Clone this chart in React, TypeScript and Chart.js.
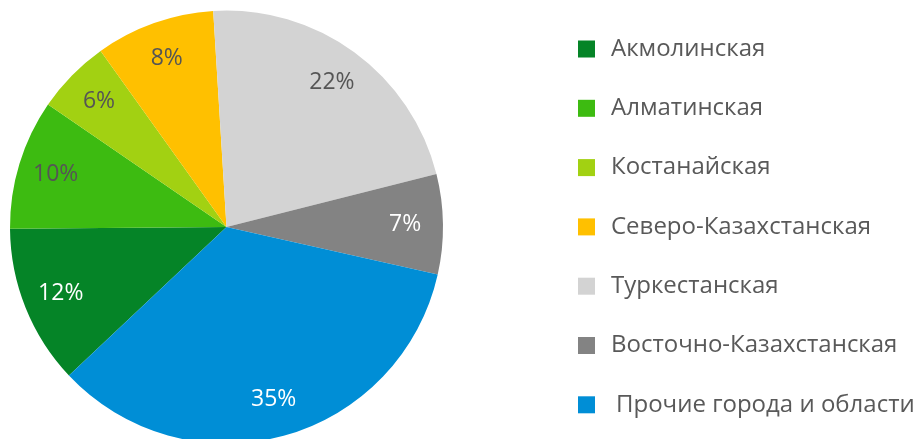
import React, { useEffect, useRef } from "react";
import { Chart, registerables } from "chart.js";

Chart.register(...registerables);

const regions = [
  "Акмолинская",
  "Алматинская",
  "Костанайская",
  "Северо-Казахстанская",
  "Туркестанская",
  "Восточно-Казахстанская",
  "Прочие города и области",
];
const shares = [11.9, 9.7, 5.55, 8.9, 22.05, 7.45, 34.45];
const shareLabels = ["12%", "10%", "6%", "8%", "22%", "7%", "35%"];
const colors = ["#058427", "#3dbb11", "#a2d112", "#ffc000", "#d3d3d3", "#838383", "#008ed6"];
const labelColors = ["#ffffff", "#555555", "#555555", "#555555", "#555555", "#ffffff", "#ffffff"];

const FONT = '"Open Sans", "DejaVu Sans", sans-serif';

const sliceLabels = {
  id: "sliceLabels",
  afterDatasetsDraw(chart: any) {
    const ctx = chart.ctx;
    const meta = chart.getDatasetMeta(0);
    ctx.save();
    ctx.font = `23px ${FONT}`;
    ctx.textAlign = "center";
    ctx.textBaseline = "middle";
    meta.data.forEach((arc: any, i: number) => {
      const p = arc.getProps(["x", "y", "startAngle", "endAngle", "outerRadius"], true);
      const mid = (p.startAngle + p.endAngle) / 2;
      const r = p.outerRadius * 0.825;
      ctx.fillStyle = labelColors[i];
      ctx.fillText(shareLabels[i], p.x + Math.cos(mid) * r, p.y + Math.sin(mid) * r);
    });
    ctx.restore();
  },
};

const sideLegend = {
  id: "sideLegend",
  afterDraw(chart: any) {
    const ctx = chart.ctx;
    ctx.save();
    ctx.font = `24px ${FONT}`;
    ctx.textBaseline = "middle";
    ctx.textAlign = "left";
    regions.forEach((name, i) => {
      const cy = 49 + i * 59.3;
      ctx.fillStyle = colors[i];
      ctx.fillRect(578, cy - 8.5, 17, 17);
      ctx.fillStyle = "#595959";
      ctx.fillText(name, i === 6 ? 616 : 611, cy);
    });
    ctx.restore();
  },
};

export default function App() {
  const ref = useRef<HTMLCanvasElement>(null);
  useEffect(() => {
    if (!ref.current) return;
    const chart = new Chart(ref.current, {
      type: "pie",
      data: {
        labels: regions,
        datasets: [
          {
            data: shares,
            backgroundColor: colors,
            borderWidth: 0,
          },
        ],
      },
      options: {
        responsive: false,
        animation: false,
        rotation: -133.3,
        layout: { padding: { left: 10, top: 10.5, right: 474, bottom: 16.5 } },
        plugins: {
          legend: { display: false },
          tooltip: { enabled: false },
        },
      },
      plugins: [sliceLabels, sideLegend],
    });
    return () => chart.destroy();
  }, []);
  return (
    <div style={{ position: "absolute", left: 0, top: 0, width: 917, height: 439, overflow: "hidden", background: "#fff" }}>
      <canvas ref={ref} width={917} height={460} style={{ width: 917, height: 460, display: "block" }} />
    </div>
  );
}
